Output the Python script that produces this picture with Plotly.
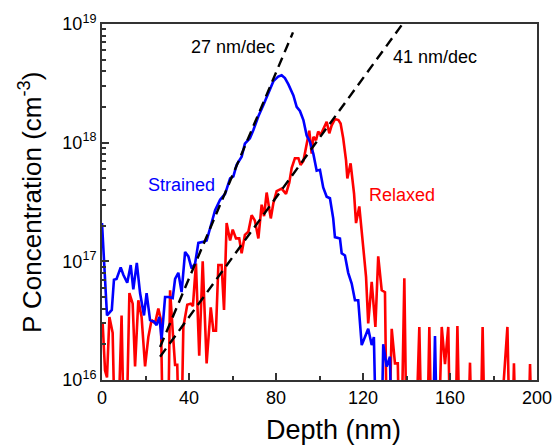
import plotly.graph_objects as go

LOW = 1e15  # values below the plotted range

strained_depth = [0, 2.3, 4.5, 5.5, 6.7, 8.6, 9.8, 11.6, 13.2, 14.4, 16.0, 17.5, 19.3, 20.5, 22.1,
                  23.9, 25.1, 26.4, 27.4, 29.0, 30.5, 32.5, 33.6, 35.1, 36.6, 38.2, 39.7, 41.2, 42.8,
                  44.3, 46.6, 48.1, 49.7, 52.0, 54.3, 56.6, 58.9, 60.4, 61.9, 64.2, 65.7, 68.0, 69.6,
                  71.9, 74.2, 76.5, 78.8, 81.0, 82.6, 84.1, 85.7, 88.0, 89.5, 91.0, 92.6, 94.1, 95.6,
                  97.2, 98.7, 100.2, 101.7, 103.3, 104.8, 106.3, 107.1, 109.4, 110.2, 111.7, 113.2,
                  114.8, 116.3, 117.8, 119.4, 120.9, 122.4, 124.0, 125.0, 126.6, 128.0, 129.3, 130.9,
                  132.4, 133.6, 140.0, 151.5, 153.1, 154.6, 170.0, 200.0]
strained_conc = [2.1e17, 3.5e16, 3.9e16, 7.0e16, 7.1e16, 8.9e16, 7.7e16, 6.6e16, 9.3e16, 5.8e16,
                 9.7e16, 5.4e16, 3.5e16, 5.4e16, 3.2e16, 3.1e16, 2.9e16, 3.4e16, 2.2e16, 5.0e16,
                 5.0e16, 4.9e16, 7.1e16, 8.0e16, 5.5e16, 1.2e17, 1.1e17, 8.7e16, 9.6e16, 1.43e17,
                 1.46e17, 1.5e17, 1.9e17, 2.7e17, 3.3e17, 3.7e17, 5.0e17, 5.2e17, 6.5e17, 7.6e17,
                 9.8e17, 1.09e18, 1.28e18, 1.67e18, 2.08e18, 2.6e18, 3.3e18, 3.6e18, 3.7e18, 3.5e18,
                 3.1e18, 2.5e18, 2.0e18, 1.85e18, 1.55e18, 1.15e18, 1.02e18, 8.0e17, 5.8e17, 5.9e17,
                 4.2e17, 3.5e17, 3.4e17, 2.3e17, 1.6e17, 1.56e17, 1.17e17, 1.12e17, 8.0e16, 6.5e16,
                 4.7e16, 4.7e16, 1.97e16, 2.3e16, 2.7e16, 1.97e16, 2.3e16, LOW, LOW, 2.0e16, 1.3e16,
                 1.57e16, LOW, LOW, LOW, 2.35e16, LOW, LOW, LOW]

relaxed_depth = [0.3, 1.4, 2.3, 3.4, 4.9, 6.5, 9.0, 10.6, 12.6, 14.1, 15.2, 16.7, 18.2, 19.8, 21.3,
                 22.8, 24.4, 25.9, 27.1, 28.5, 30.0, 31.3, 32.5, 33.6, 34.6, 36.0, 37.4, 39.2, 40.8,
                 41.8, 43.2, 44.7, 46.3, 48.1, 50.0, 51.2, 52.4, 53.5, 55.0, 56.1, 57.3, 58.9, 60.1,
                 61.6, 63.1, 64.2, 65.7, 67.3, 68.8, 70.3, 71.9, 73.4, 74.5, 75.7, 77.6, 78.8, 80.3,
                 82.6, 84.6, 86.1, 87.2, 88.7, 90.3, 91.3, 92.6, 94.1, 95.3, 96.4, 97.2, 98.4, 99.4,
                 100.5, 102.1, 103.3, 104.5, 105.6, 107.1, 108.7, 109.7, 110.9, 112.2, 112.8, 114.3,
                 115.9, 116.8, 118.3, 120.1, 121.4, 122.4, 124.0, 125.7, 127.0, 128.6, 130.1, 131.3,
                 133.2, 134.7, 136.0, 137.2, 139.0, 140.4, 142.0, 143.5, 145.9, 147.5, 149.0, 150.5,
                 152.0, 154.0, 156.2, 157.7, 159.2, 160.5, 162.0, 163.4, 165.0, 167.5, 169.2, 170.7,
                 173.5, 175.0, 176.5, 181.0, 186.4, 188.0, 189.4, 191.0, 195.3, 196.8, 198.3, 200.0]
relaxed_conc = [3.0e16, 1.2e16, 1.05e16, 3.4e16, 2.5e16, LOW, 3.5e16, LOW, 5.4e16, 4.4e16, 1.3e16,
                4.7e16, 3.4e16, 1.3e16, 2.3e16, 3.2e16, 3.0e16, 4.0e16, 3.2e16, LOW, LOW, 5.7e16,
                2.6e16, 1.34e16, 1.34e16, LOW, 2.8e16, 4.3e16, 4.4e16, 4.2e16, 9.6e16, 1.6e16,
                1.0e17, 1.38e16, 4.1e16, 2.6e16, 2.6e16, 9.3e16, 9.3e16, 3.9e16, 2.1e17, 1.5e17,
                1.85e17, 1.56e17, 1.56e17, 1.17e17, 1.67e17, 1.78e17, 2.45e17, 2.2e17, 1.56e17,
                3.0e17, 2.4e17, 3.8e17, 2.3e17, 3.1e17, 3.9e17, 4.1e17, 3.7e17, 4.6e17, 6.1e17,
                7.4e17, 7.4e17, 6.5e17, 7.0e17, 9.8e17, 1.26e18, 8.1e17, 1.12e18, 1.05e18, 1.24e18,
                1.16e18, 1.32e18, 1.5e18, 1.2e18, 1.4e18, 1.58e18, 1.55e18, 1.45e18, 1.09e18, 7.1e17,
                5.0e17, 6.7e17, 3.7e17, 2.1e17, 2.9e17, 1.32e17, 7.4e16, 3.0e16, 6.7e16, 2.8e16,
                1.1e17, 5.7e16, 5.5e16, LOW, 2.7e16, 1.38e16, 1.38e16, LOW, 7.2e16, LOW, LOW, LOW,
                2.8e16, LOW, LOW, 2.8e16, LOW, LOW, 2.8e16, 1.36e16, 2.8e16, LOW, LOW, 2.85e16, LOW,
                LOW, 1.4e16, LOW, LOW, 2.8e16, LOW, LOW, 2.8e16, LOW, 1.38e16, LOW, LOW, 1.36e16,
                LOW, LOW]

fit27_depth = [26.7, 87.8]
fit27_conc = [1.9e16, 8.5e18]
fit41_depth = [26.7, 137.8]
fit41_conc = [1.57e16, 9.8e18]

y_tickvals = [1e16, 1e17, 1e18, 1e19]
y_ticktext = ["10<sup>16</sup>", "10<sup>17</sup>", "10<sup>18</sup>", "10<sup>19</sup>"]
y_minor = [m * 10 ** e for e in (16, 17, 18) for m in range(2, 10)]
x_tickvals = [0, 40, 80, 120, 160, 200]
x_minor = [20, 60, 100, 140, 180]

FONT = "Liberation Sans, Arial, sans-serif"

W, H = 554, 445
L, R, T, B = 102, 17, 24, 65
pw, ph = W - L - R, H - T - B

fig = go.Figure()
fig.add_trace(go.Scatter(x=relaxed_depth, y=relaxed_conc, mode="lines",
                         line=dict(color="#ff0000", width=2.6), showlegend=False))
fig.add_trace(go.Scatter(x=strained_depth, y=strained_conc, mode="lines",
                         line=dict(color="#0000ff", width=2.6), showlegend=False))
for xs, ys in ((fit27_depth, fit27_conc), (fit41_depth, fit41_conc)):
    fig.add_trace(go.Scatter(x=xs, y=ys, mode="lines",
                             line=dict(color="black", width=2.4, dash="10px,6px"),
                             showlegend=False))

axis_common = dict(showline=True, linecolor="#333333", linewidth=2, mirror=True,
                   ticks="inside", ticklen=7, tickwidth=1.5, tickcolor="#333333",
                   showgrid=False, zeroline=False, automargin=False,
                   tickfont=dict(family=FONT, size=18, color="black"))

fig.update_xaxes(range=[0, 200], tickmode="array", tickvals=x_tickvals,
                 ticktext=[str(v) for v in x_tickvals],
                 minor=dict(tickmode="array", tickvals=x_minor, ticks="inside",
                            ticklen=4, tickcolor="#333333", tickwidth=1.5),
                 **axis_common)
fig.update_yaxes(type="log", range=[16, 19], tickmode="array", tickvals=y_tickvals,
                 ticktext=y_ticktext,
                 minor=dict(tickmode="array", tickvals=y_minor, ticks="inside",
                            ticklen=4, tickcolor="#333333", tickwidth=1.5),
                 **axis_common)

annotations = [
    dict(x=60.2, y=18.806, text="27 nm/dec", font=dict(size=18, color="black")),
    dict(x=132.7, y=18.72, text="41 nm/dec", xanchor="left", font=dict(size=18, color="black")),
    dict(x=36.6, y=17.64, text="Strained", font=dict(size=18, color="#0000ff")),
    dict(x=137.9, y=17.56, text="Relaxed", font=dict(size=18, color="#ff0000")),
]
for a in annotations:
    a.setdefault("xanchor", "center")
    a.update(xref="x", yref="y", showarrow=False, yanchor="middle")
    a["font"]["family"] = FONT
    fig.add_annotation(**a)

fig.add_annotation(x=(333 - L) / pw, y=-(430 - (H - B)) / ph, xref="paper", yref="paper",
                   text="Depth (nm)", showarrow=False, xanchor="center", yanchor="middle",
                   font=dict(family=FONT, size=27, color="black"))
fig.add_annotation(x=-(L - 30) / pw, y=(H - B - 203) / ph, xref="paper", yref="paper",
                   text="P Concentration (cm<sup>-3</sup>)", showarrow=False, textangle=-90,
                   xanchor="center", yanchor="middle",
                   font=dict(family=FONT, size=26, color="black"))

fig.update_layout(width=W, height=H, margin=dict(l=L, r=R, t=T, b=B, autoexpand=False),
                  plot_bgcolor="white", paper_bgcolor="white",
                  font=dict(family=FONT, color="black"))

fig.write_html("out.html")
